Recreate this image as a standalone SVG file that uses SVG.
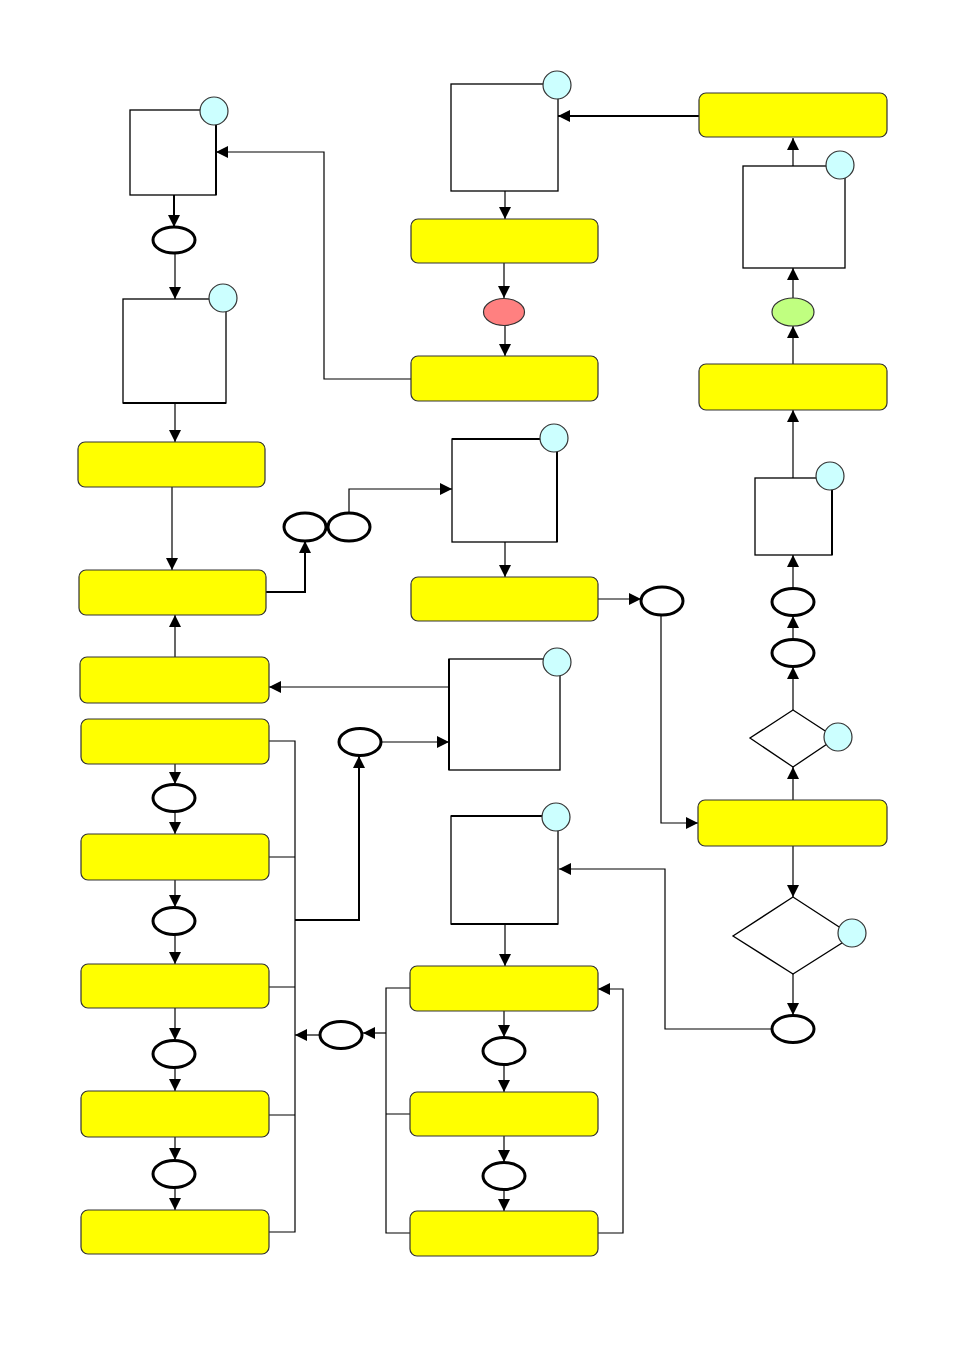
<svg xmlns="http://www.w3.org/2000/svg" width="954" height="1348" viewBox="0 0 954 1348">
<style>
.y{fill:#ffff00;stroke:#333;stroke-width:1.2}
.b{fill:#fff;stroke:#000;stroke-width:1.3}
.c{fill:#ccffff;stroke:#333;stroke-width:1.2}
.o{fill:#fff;stroke:#000;stroke-width:3}
.l{fill:none;stroke:#000;stroke-width:1.2}
.t{fill:none;stroke:#000;stroke-width:2}
.a{marker-end:url(#ar)}
</style>
<defs>
<marker id="ar" markerUnits="userSpaceOnUse" markerWidth="12" markerHeight="12" viewBox="0 0 12 12" refX="12" refY="6" orient="auto"><path d="M0,0 L12,6 L0,12 z" fill="#000"/></marker>
</defs>
<rect width="954" height="1348" fill="#fff"/>
<g id="connectors">
<path class="t a" d="M174,195 V227"/>
<path class="l a" d="M175,253 V299"/>
<path class="l a" d="M175,403 V442"/>
<path class="l a" d="M172,487 V570"/>
<path class="l a" d="M175,657 V615"/>
<path class="t a" d="M266,592 H305 V541"/>
<path class="l a" d="M349,513 V489 H452"/>
<path class="l a" d="M505,542 V577"/>
<path class="l a" d="M598,599 H641"/>
<path class="l a" d="M661,615 V823 H698"/>
<path class="l a" d="M793,800 V767"/>
<path class="l a" d="M793,710 V667"/>
<path class="l a" d="M793,640 V616"/>
<path class="l a" d="M793,588 V555"/>
<path class="l a" d="M793,478 V410"/>
<path class="l a" d="M793,364 V326"/>
<path class="l a" d="M793,298 V268"/>
<path class="l a" d="M793,166 V138"/>
<path class="t a" d="M699,116 H558"/>
<path class="l a" d="M505,191 V219"/>
<path class="l a" d="M504,263 V298"/>
<path class="l a" d="M505,326 V356"/>
<path class="l a" d="M411,379 H324 V152 H216"/>
<path class="l a" d="M449,687 H269"/>
<path class="l a" d="M382,742 H449"/>
<path class="l a" d="M793,846 V897"/>
<path class="l a" d="M793,974 V1015"/>
<path class="l a" d="M772,1029 H665 V869 H559"/>
<path class="l a" d="M505,924 V966"/>
<path class="l a" d="M504,1011 V1037"/>
<path class="l a" d="M504,1065 V1092"/>
<path class="l a" d="M504,1136 V1162"/>
<path class="l a" d="M504,1190 V1211"/>
<path class="l a" d="M598,1233 H623 V989 H598"/>
<path class="l" d="M411,988 H386 V1233 H411 M386,1114 H411"/>
<path class="l a" d="M386,1033 H363"/>
<path class="l a" d="M320,1035 H295"/>
<path class="l" d="M269,741 H295 V1232 H269 M269,857 H295 M269,987 H295 M269,1115 H295"/>
<path class="t a" d="M295,920 H359 V756"/>
<path class="l a" d="M175,764 V784"/>
<path class="l a" d="M175,812 V834"/>
<path class="l a" d="M175,880 V907"/>
<path class="l a" d="M175,935 V964"/>
<path class="l a" d="M175,1008 V1040"/>
<path class="l a" d="M175,1068 V1091"/>
<path class="l a" d="M175,1137 V1160"/>
<path class="l a" d="M175,1188 V1210"/>
</g>
<g id="boxA"><rect class="b" x="130" y="110" width="86" height="85"/><path class="t" d="M216,120 V195"/><circle class="c" cx="214" cy="111" r="14"/></g>
<g id="boxB"><rect class="b" x="123" y="299" width="103" height="104"/><path class="t" d="M123,403 H226"/><circle class="c" cx="223" cy="298" r="14"/></g>
<g id="boxG"><rect class="b" x="451" y="84" width="107" height="107"/><circle class="c" cx="557" cy="85" r="14"/></g>
<g id="boxF"><rect class="b" x="743" y="166" width="102" height="102"/><circle class="c" cx="840" cy="165" r="14"/></g>
<g id="boxC"><rect class="b" x="452" y="439" width="105" height="103"/><path class="t" d="M452,439 H545 M557,450 V542"/><circle class="c" cx="554" cy="438" r="14"/></g>
<g id="boxE"><rect class="b" x="755" y="478" width="77" height="77"/><path class="t" d="M832,488 V555"/><circle class="c" cx="830" cy="476" r="14"/></g>
<g id="boxH"><rect class="b" x="449" y="659" width="111" height="111"/><path class="t" d="M449,659 V770"/><circle class="c" cx="557" cy="662" r="14"/></g>
<g id="boxI"><rect class="b" x="451" y="816" width="107" height="108"/><path class="t" d="M451,816 H545 M451,924 H558"/><circle class="c" cx="556" cy="817" r="14"/></g>
<g id="D1"><polygon class="b" points="793,710 836,738 793,767 750,738"/><circle class="c" cx="838" cy="737" r="14"/></g>
<g id="D2"><polygon class="b" points="793,897 853,936 793,974 733,936"/><circle class="c" cx="852" cy="933" r="14"/></g>
<g id="Y1"><rect class="y" x="78" y="442" width="187" height="45" rx="7"/></g>
<g id="Y2"><rect class="y" x="79" y="570" width="187" height="45" rx="7"/></g>
<g id="Y3"><rect class="y" x="80" y="657" width="189" height="46" rx="7"/></g>
<g id="Y10"><rect class="y" x="81" y="719" width="188" height="45" rx="7"/></g>
<g id="Y11"><rect class="y" x="81" y="834" width="188" height="46" rx="7"/></g>
<g id="Y12"><rect class="y" x="81" y="964" width="188" height="44" rx="7"/></g>
<g id="Y13"><rect class="y" x="81" y="1091" width="188" height="46" rx="7"/></g>
<g id="Y14"><rect class="y" x="81" y="1210" width="188" height="44" rx="7"/></g>
<g id="Y8"><rect class="y" x="411" y="219" width="187" height="44" rx="7"/></g>
<g id="Y9"><rect class="y" x="411" y="356" width="187" height="45" rx="7"/></g>
<g id="Y4"><rect class="y" x="411" y="577" width="187" height="44" rx="7"/></g>
<g id="Y15"><rect class="y" x="410" y="966" width="188" height="45" rx="7"/></g>
<g id="Y16"><rect class="y" x="410" y="1092" width="188" height="44" rx="7"/></g>
<g id="Y17"><rect class="y" x="410" y="1211" width="188" height="45" rx="7"/></g>
<g id="Y7"><rect class="y" x="699" y="93" width="188" height="44" rx="7"/></g>
<g id="Y6"><rect class="y" x="699" y="364" width="188" height="46" rx="7"/></g>
<g id="Y5"><rect class="y" x="698" y="800" width="189" height="46" rx="7"/></g>
<g id="O1"><ellipse class="o" cx="174" cy="240" rx="21" ry="13"/></g>
<g id="O2"><ellipse class="o" cx="305" cy="527" rx="21" ry="14"/></g>
<g id="O3"><ellipse class="o" cx="349" cy="527" rx="21" ry="14"/></g>
<g id="O4"><ellipse class="o" cx="662" cy="601" rx="21" ry="14"/></g>
<g id="O5"><ellipse class="o" cx="793" cy="653" rx="21" ry="13.5"/></g>
<g id="O6"><ellipse class="o" cx="793" cy="602" rx="21" ry="13.5"/></g>
<g id="O7"><ellipse class="o" cx="360" cy="742" rx="21" ry="13.5"/></g>
<g id="O8"><ellipse class="o" cx="174" cy="798" rx="21" ry="13.5"/></g>
<g id="O9"><ellipse class="o" cx="174" cy="921" rx="21" ry="13.5"/></g>
<g id="O10"><ellipse class="o" cx="174" cy="1054" rx="21" ry="13.5"/></g>
<g id="O11"><ellipse class="o" cx="174" cy="1174" rx="21" ry="13.5"/></g>
<g id="O12"><ellipse class="o" cx="341" cy="1035" rx="21" ry="13.5"/></g>
<g id="O13"><ellipse class="o" cx="504" cy="1051" rx="21" ry="13.5"/></g>
<g id="O14"><ellipse class="o" cx="504" cy="1176" rx="21" ry="13.5"/></g>
<g id="O15"><ellipse class="o" cx="793" cy="1029" rx="21" ry="13.5"/></g>
<g id="Ored"><ellipse cx="504" cy="312" rx="20.5" ry="13.5" fill="#ff8080" stroke="#333" stroke-width="1.2"/></g>
<g id="Ogreen"><ellipse cx="793" cy="312" rx="21" ry="14" fill="#c0ff80" stroke="#333" stroke-width="1.2"/></g>
</svg>
